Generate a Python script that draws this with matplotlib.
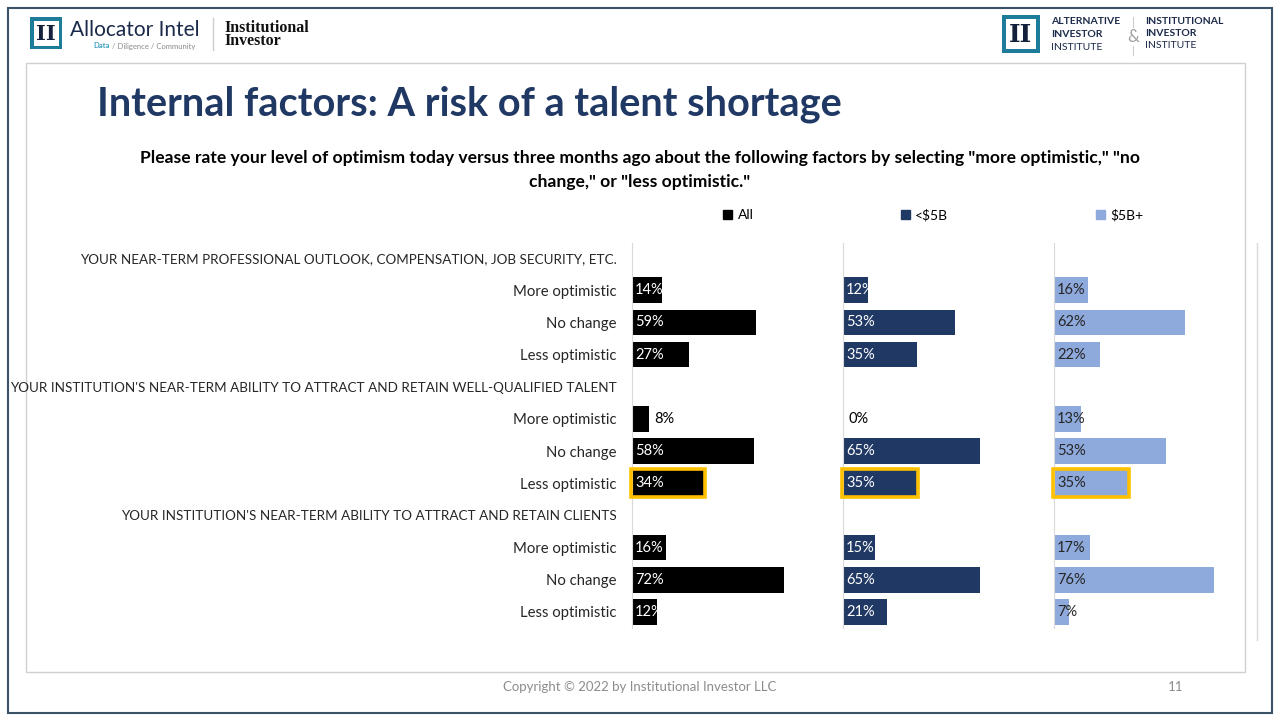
import matplotlib
matplotlib.use("Agg")
import matplotlib.pyplot as plt
from matplotlib.patches import Rectangle, Patch

plt.rcParams['font.family'] = ['Lato', 'DejaVu Sans']

# DATA
groups = ["YOUR NEAR-TERM PROFESSIONAL OUTLOOK, COMPENSATION, JOB SECURITY, ETC.",
          "YOUR INSTITUTION'S NEAR-TERM ABILITY TO ATTRACT AND RETAIN WELL-QUALIFIED TALENT",
          "YOUR INSTITUTION'S NEAR-TERM ABILITY TO ATTRACT AND RETAIN CLIENTS"]
answers = ["More optimistic", "No change", "Less optimistic"]
series_names = ["All", "<$5B", "$5B+"]
all_vals = [14, 59, 27, 8, 58, 34, 16, 72, 12]
small_vals = [12, 53, 35, 0, 65, 35, 15, 65, 21]
large_vals = [16, 62, 22, 13, 53, 35, 17, 76, 7]
highlight_row = 7  # "Less optimistic" of the talent question

colors = ["#000000", "#1F3864", "#8EA9DB"]
text_colors = ["white", "white", "#262626"]

W, H = 1280, 720
fig = plt.figure(figsize=(12.8, 7.2), dpi=100)

# background / decorations in pixel coords
bg = fig.add_axes([0, 0, 1, 1])
bg.set_xlim(0, W)
bg.set_ylim(H, 0)
bg.axis('off')
bg.add_patch(Rectangle((8, 8), 1264, 705, fill=False, ec="#3B5166", lw=1.5))
bg.add_patch(Rectangle((26, 63), 1219, 609, fill=False, ec="#D0D0D0", lw=1))
bg.plot([1257, 1257], [243, 640], color="#D9D9D9", lw=1)

# left logo
bg.add_patch(Rectangle((30, 17), 32, 32, fc="#1D7C9A", ec="none"))
bg.add_patch(Rectangle((33.5, 20.5), 25, 25, fc="white", ec="none"))
bg.text(46, 34, "II", fontsize=15, fontweight='bold', family='DejaVu Serif',
        color="#14213D", ha='center', va='center')
bg.text(70, 30, "Allocator Intel", fontsize=15, color="#1B2A4A", ha='left', va='center')
bg.text(93, 46, "Data", fontsize=5.5, color="#3AA0BE", fontweight='bold', ha='left', va='center')
bg.text(112, 46, "/ Diligence / Community", fontsize=5.5, color="#8A8A8A", ha='left', va='center')
bg.plot([213, 213], [18, 50], color="#CCCCCC", lw=1)
bg.text(224, 27.5, "Institutional", fontsize=11.5, fontweight='bold', family='Liberation Serif',
        color="#111111", ha='left', va='center')
bg.text(224, 41, "Investor", fontsize=11.5, fontweight='bold', family='Liberation Serif',
        color="#111111", ha='left', va='center')

# right logo
bg.add_patch(Rectangle((1002, 15), 38, 38, fc="#1D7C9A", ec="none"))
bg.add_patch(Rectangle((1006, 19), 30, 30, fc="white", ec="none"))
bg.text(1021, 34.5, "II", fontsize=18, fontweight='bold', family='DejaVu Serif',
        color="#14213D", ha='center', va='center')
for i, (t, w) in enumerate([("ALTERNATIVE", 'bold'), ("INVESTOR", 'bold'), ("INSTITUTE", 'normal')]):
    bg.text(1051, 22 + i * 12.5, t, fontsize=7.5, fontweight=w, color="#1B2A4A", ha='left', va='center')
for i, (t, w) in enumerate([("INSTITUTIONAL", 'bold'), ("INVESTOR", 'bold'), ("INSTITUTE", 'normal')]):
    bg.text(1145, 22 + i * 12, t, fontsize=7.5, fontweight=w, color="#1B2A4A", ha='left', va='center')
bg.text(1133, 37, "&", fontsize=12, color="#A0A0A0", ha='center', va='center')
bg.plot([1133, 1133], [17, 27], color="#CCCCCC", lw=0.8)
bg.plot([1133, 1133], [46, 55], color="#CCCCCC", lw=0.8)

# titles
bg.text(97, 104, "Internal factors: A risk of a talent shortage", fontsize=28.6, fontweight='bold',
        color="#203864", ha='left', va='center')
bg.text(640, 170, 'Please rate your level of optimism today versus three months ago about the following factors by selecting "more optimistic," "no\nchange," or "less optimistic."',
        fontsize=12.6, fontweight='bold', color="black", ha='center', va='center', linespacing=1.55)

# footer
bg.text(640, 687, "Copyright \u00a9 2022 by Institutional Investor LLC", fontsize=9.5,
        color="#8C8C8C", ha='center', va='center')
bg.text(1176, 687, "11", fontsize=9.5, color="#8C8C8C", ha='center', va='center')

# rows
tick_pos = []
tick_lab = []
bar_rows = []
r = 0
for g in groups:
    tick_pos.append(r)
    tick_lab.append(g)
    r += 1
    for a in answers:
        tick_pos.append(r)
        tick_lab.append(a)
        bar_rows.append(r)
        r += 1

panel_vals = [all_vals, small_vals, large_vals]
ax_bottom = 1 - 628 / H
ax_height = 385 / H
for i, vals in enumerate(panel_vals):
    ax = fig.add_axes([(632 + i * 211) / W, ax_bottom, 211 / W, ax_height])
    ax.set_xlim(0, 100)
    ax.set_ylim(11.5, -0.47)
    ax.patch.set_alpha(0)
    for s in ['top', 'right', 'bottom']:
        ax.spines[s].set_visible(False)
    ax.spines['left'].set_color("#D9D9D9")
    ax.set_xticks([])
    ax.barh(bar_rows, vals, height=0.8, color=colors[i])
    for y, v in zip(bar_rows, vals):
        if v < 10 and i < 2:
            ax.text(v + 2.4, y, f"{v}%", color="black", fontsize=10.5, va='center', ha='left')
        else:
            ax.text(1.5, y, f"{v}%", color=text_colors[i], fontsize=10.5, va='center', ha='left')
    hv = vals[bar_rows.index(highlight_row)]
    ax.add_patch(Rectangle((-0.6, highlight_row - 0.44), hv + 1.2, 0.88, fill=False,
                           ec="#FFC000", lw=2.6, clip_on=False, zorder=3))
    if i == 0:
        ax.set_yticks(tick_pos)
        ax.set_yticklabels(tick_lab, color="#262626")
        for lab in ax.get_yticklabels():
            lab.set_fontsize(9.7 if lab.get_text() in groups else 10.7)
        ax.tick_params(axis='y', length=0, pad=11)
    else:
        ax.set_yticks([])

handles = [Patch(color=c) for c in colors]
fig.legend(handles, series_names, loc='center left', bbox_to_anchor=(723 / W, 1 - 215 / H),
           ncol=3, frameon=False, fontsize=10, handlelength=0.65, handleheight=0.65,
           handletextpad=0.4, columnspacing=10.6, borderpad=0, borderaxespad=0)

fig.savefig("out.png", dpi=100)
